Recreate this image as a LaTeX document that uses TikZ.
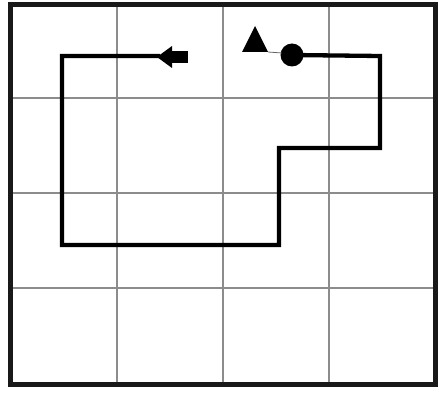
\documentclass[tikz,border=0pt]{standalone}
\begin{document}
\begin{tikzpicture}[x=1pt,y=-1pt,
  gridline/.style={draw=black!45,line width=1.3pt},
  frame/.style={draw=black!90,line width=5pt},
  route/.style={draw=black,line width=4.3pt,line join=miter}]
\useasboundingbox (0,0) rectangle (439,393);
\fill[white] (0,0) rectangle (439,393);
% grid
\foreach \x in {117,223,329} \draw[gridline] (\x,5) -- (\x,384);
\foreach \y in {98,193,288} \draw[gridline] (10,\y) -- (435,\y);
\draw[frame] (10,5) rectangle (435,384);
% route
\coordinate (c) at (292,55);
\draw[route] (c) -- (380,56) -- (380,148) -- (279,148) -- (279,245) -- (62,245) -- (62,56) -- (160,56);
% arrow at end
\fill[black] (157,57) -- (172,46) -- (172,68) -- cycle;
\fill[black] (170,51) rectangle (188,63);
% circle start
\fill[black] (c) circle (11.5);
% triangle
\fill[black] (242,52) -- (255,26) -- (268,52) -- cycle;
\draw[black!60,line width=0.8pt] (268,52) -- (282,53);
\end{tikzpicture}
\end{document}
